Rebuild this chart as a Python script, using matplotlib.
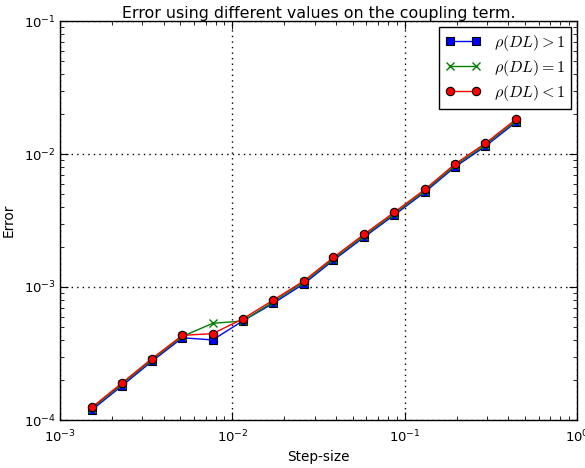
import numpy as np
from matplotlib import pyplot as plt
from matplotlib.font_manager import FontProperties

# step sizes
h = [1.53e-3, 2.28e-3, 3.41e-3, 5.13e-3, 7.69e-3, 1.148e-2, 1.73e-2, 2.61e-2,
     3.86e-2, 5.81e-2, 8.71e-2, 0.1313, 0.196, 0.293, 0.4415]

# errors for the three cases
err_gt = [1.19e-4, 1.80e-4, 2.76e-4, 4.15e-4, 4.00e-4, 5.55e-4, 7.55e-4, 1.06e-3,
          1.59e-3, 2.37e-3, 3.48e-3, 5.18e-3, 8.00e-3, 1.14e-2, 1.73e-2]
err_eq = [1.22e-4, 1.85e-4, 2.83e-4, 4.25e-4, 5.33e-4, 5.55e-4, 7.75e-4, 1.09e-3,
          1.63e-3, 2.43e-3, 3.56e-3, 5.30e-3, 8.20e-3, 1.17e-2, 1.78e-2]
err_lt = [1.245e-4, 1.89e-4, 2.89e-4, 4.33e-4, 4.46e-4, 5.75e-4, 7.98e-4, 1.115e-3,
          1.67e-3, 2.49e-3, 3.65e-3, 5.43e-3, 8.41e-3, 1.20e-2, 1.82e-2]

labels = [r'$\rho(DL)>1$', r'$\rho(DL)=1$', r'$\rho(DL)<1$']

fig = plt.figure(figsize=(5.85, 4.68), dpi=100)
ax = fig.add_axes([60/585, 1-420/468, 517/585, 399/468])

ax.loglog(h, err_gt, 'b-', marker='s', ms=5.5, mec='k', mew=0.8, lw=1, label=labels[0])
ax.loglog(h, err_eq, 'g-', marker='x', ms=6, mew=1, lw=1, label=labels[1])
ax.loglog(h, err_lt, 'r-', marker='o', ms=6, mec='k', mew=0.8, lw=1, label=labels[2])

ax.set_xlim(1e-3, 1)
ax.set_ylim(1e-4, 1e-1)
ax.grid(True, which='major', color='k', linestyle=(0, (1, 3)), lw=1)
ax.tick_params(which='both', direction='in', top=True, right=True, labelsize=9.5)
ax.tick_params(which='major', length=6)
ax.tick_params(axis='x', which='major', pad=6)
ax.tick_params(axis='y', which='major', pad=3)
ax.tick_params(which='minor', length=3)
for s in ax.spines.values():
    s.set_linewidth(1)

ax.set_title('Error using different values on the coupling term.', fontsize=11.4, pad=1)
ax.set_xlabel('Step-size', fontsize=9.8, labelpad=4)
ax.set_ylabel('Error', fontsize=9.8, labelpad=6)

leg = ax.legend(loc='upper right', fancybox=False, borderaxespad=0.35, numpoints=2,
                prop=FontProperties(size=11.5, math_fontfamily='cm'),
                handlelength=2.2, labelspacing=0.3, framealpha=1)
leg.get_frame().set_edgecolor('k')
leg.get_frame().set_linewidth(1)

fig.savefig('out.png', dpi=100)
